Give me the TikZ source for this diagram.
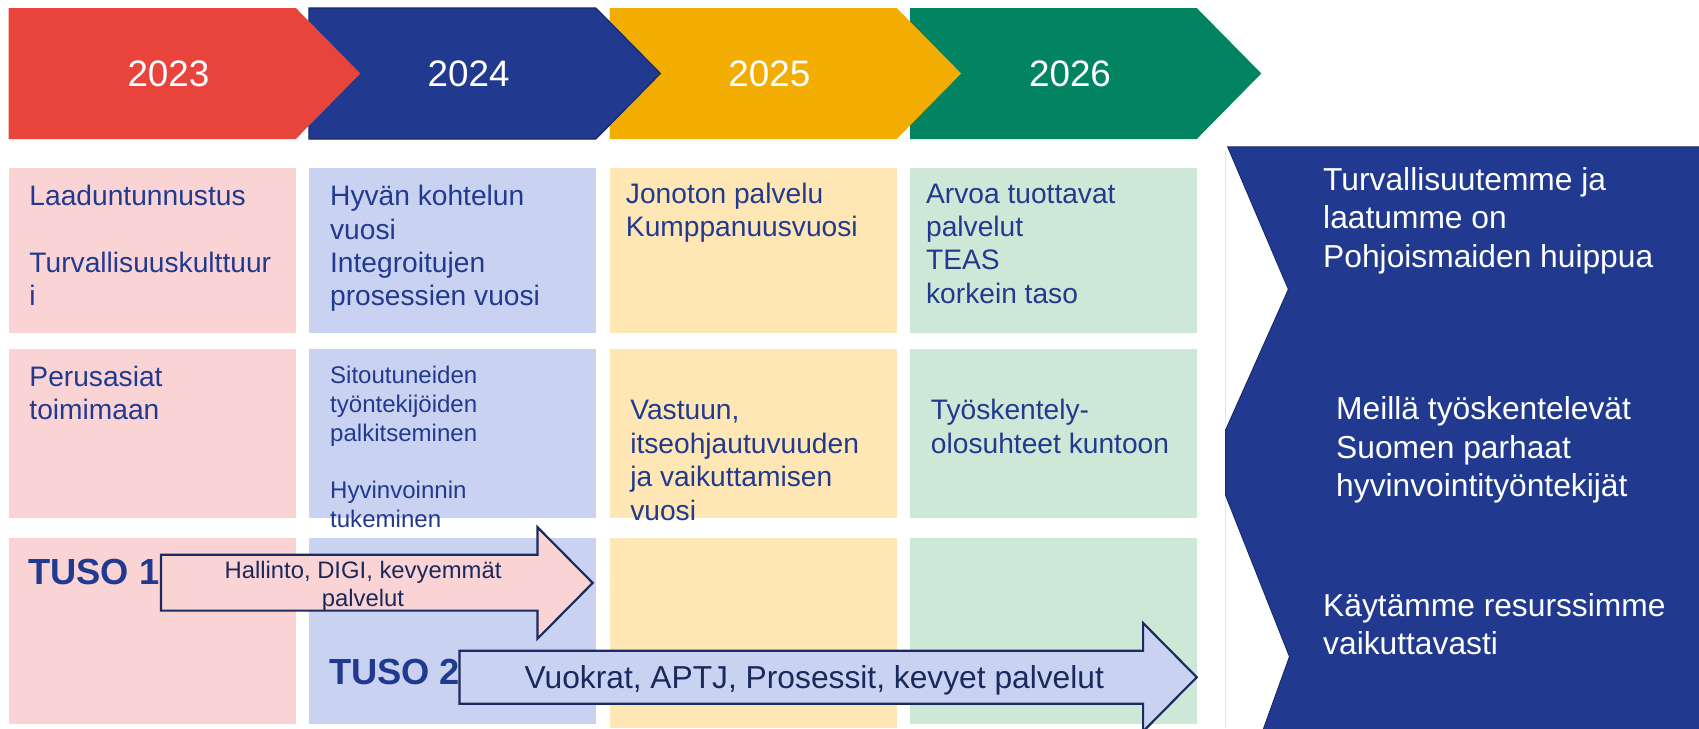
\documentclass[tikz,border=0pt]{standalone}
\usepackage{fontspec}
\setmainfont{Liberation Sans}

% palette
\definecolor{cred}{RGB}{233,68,59}
\definecolor{cnavy}{RGB}{33,58,143}
\definecolor{cnavyedge}{RGB}{22,40,105}
\definecolor{corange}{RGB}{243,172,2}
\definecolor{cgreen}{RGB}{2,132,99}
\definecolor{bpink}{RGB}{250,212,212}
\definecolor{blav}{RGB}{201,211,241}
\definecolor{byellow}{RGB}{255,231,181}
\definecolor{bgreen}{RGB}{206,232,216}
\definecolor{arrowline}{RGB}{27,42,96}
\definecolor{arrowtext}{RGB}{27,40,92}
\definecolor{gline}{RGB}{228,228,228}

% multi-line text block whose first baseline is the node's base
\newcommand\txtlines[1]{\parbox[t]{330pt}{\raggedright #1}}
\newcommand\txtcentered[1]{\parbox[t]{420pt}{\centering #1}}

\begin{document}
\begin{tikzpicture}[x=1pt,y=-1pt,
  yeartext/.style={inner sep=0pt, text=white, font=\fontsize{34}{40}\selectfont},
  boxtext/.style={anchor=base west, inner sep=0pt, text=cnavy, font=\fontsize{26}{30.8}\selectfont},
  smalltext/.style={anchor=base west, inner sep=0pt, text=cnavy, font=\fontsize{22.2}{26.7}\selectfont},
  tusotext/.style={anchor=base west, inner sep=0pt, text=cnavy, font=\fontsize{33.5}{40}\selectfont\bfseries},
  goaltext/.style={anchor=base west, inner sep=0pt, text=white, font=\fontsize{29.3}{35.3}\selectfont},
  arrowlabel/.style={anchor=base, inner sep=0pt, text=arrowtext},
  bigarrow/.style={draw=arrowline, line width=2pt, line join=miter},
]
\useasboundingbox (0,0) rectangle (1568,672);

% ---- year chevrons (drawn right to left so each tip lies over the next one)
\fill[cgreen]  (840,7.4) -- (1104.5,7.4) -- (1164,67.8) -- (1104.5,128.3) -- (840,128.3) -- cycle;
\fill[corange] (562.5,7.4) -- (827.5,7.4) -- (887,67.8) -- (827.5,128.3) -- (562.5,128.3) -- cycle;
\filldraw[fill=cnavy, draw=cnavyedge, line width=1pt]
               (285,7.4) -- (550,7.4) -- (609.5,67.8) -- (550,128.3) -- (285,128.3) -- cycle;
\fill[cred]    (8,7.4) -- (273,7.4) -- (332.5,67.8) -- (273,128.3) -- (8,128.3) -- cycle;

\node[yeartext] (y2023) at (155.5,67.8) {2023};
\node[yeartext] (y2024) at (432.5,67.8) {2024};
\node[yeartext] (y2025) at (710,67.8) {2025};
\node[yeartext] (y2026) at (987.5,67.8) {2026};

% ---- column boxes
\fill[bpink]   (8,155.4) rectangle (273,307.6);
\fill[blav]    (285,155.4) rectangle (550,307.6);
\fill[byellow] (562.5,155.4) rectangle (827.5,307.6);
\fill[bgreen]  (840,155.4) rectangle (1104.5,307.6);

\fill[bpink]   (8,322.4) rectangle (273,478.4);
\fill[blav]    (285,322.4) rectangle (550,478.4);
\fill[byellow] (562.5,322.4) rectangle (827.5,478.4);
\fill[bgreen]  (840,322.4) rectangle (1104.5,478.4);

\fill[bpink]   (8,496.8) rectangle (273,668.2);
\fill[blav]    (285,496.8) rectangle (550,668.2);
\fill[byellow] (562.5,496.8) rectangle (827.5,672);
\fill[bgreen]  (840,496.8) rectangle (1104.5,668.2);

% ---- box texts, first row
\node[boxtext] (t11) at (27,190) {\txtlines{Laaduntunnustus\\\mbox{}\\Turvallisuuskulttuur\\i}};
\node[boxtext] (t12) at (304.5,190) {\txtlines{Hyvän kohtelun\\vuosi\\Integroitujen\\prosessien vuosi}};
\node[boxtext] (t13) at (577.5,187.5) {\txtlines{Jonoton palvelu\\Kumppanuusvuosi}};
\node[boxtext] (t14) at (854.5,187.5) {\txtlines{Arvoa tuottavat\\palvelut\\TEAS\\korkein taso}};

% ---- box texts, second row
\node[boxtext] (t21) at (27,356.3) {\txtlines{Perusasiat\\toimimaan}};
\node[smalltext] (t22) at (304.5,353.7) {\txtlines{Sitoutuneiden\\työntekijöiden\\palkitseminen\\\mbox{}\\Hyvinvoinnin\\tukeminen}};
\node[boxtext] (t23) at (581.5,387.6) {\txtlines{Vastuun,\\itseohjautuvuuden\\ja vaikuttamisen\\vuosi}};
\node[boxtext] (t24) at (859,387.6) {\txtlines{Työskentely-\\olosuhteet kuntoon}};

% ---- TUSO labels and their arrows
\node[tusotext] (tuso1) at (26,539) {TUSO 1};
\node[tusotext] (tuso2) at (303.5,632) {TUSO 2};

\filldraw[bigarrow, fill=bpink]
  (148.6,512) -- (496,512) -- (496,486.5) -- (547,538) -- (496,589.5) -- (496,563.5) -- (148.6,563.5) -- cycle;
\node[arrowlabel, font=\fontsize{22}{26.4}\selectfont] (a1) at (335,533.6)
  {\txtcentered{Hallinto, DIGI, kevyemmät\\palvelut}};

\filldraw[bigarrow, fill=blav]
  (424,600.5) -- (1055,600.5) -- (1055,575) -- (1104.5,625) -- (1055,675) -- (1055,649.5) -- (424,649.5) -- cycle;
\node[arrowlabel, font=\fontsize{29.3}{34}\selectfont] (a2) at (751.5,635)
  {Vuokrat, APTJ, Prosessit, kevyet palvelut};

% ---- goal panel on the right
\draw[gline, line width=1pt] (1131,138) -- (1131,672);
\filldraw[fill=cnavy, draw=cnavyedge, line width=0.8pt]
  (1133,135.6) -- (1570,135.6) -- (1570,674) -- (1165.5,674) -- (1190,606)
  -- (1131,457) -- (1131,397) -- (1189,267) -- cycle;

\node[goaltext] (g1) at (1221,176) {\txtlines{Turvallisuutemme ja\\laatumme on\\Pohjoismaiden huippua}};
\node[goaltext] (g2) at (1233,387.6) {\txtlines{Meillä työskentelevät\\Suomen parhaat\\hyvinvointityöntekijät}};
\node[goaltext] (g3) at (1221,568.5) {\txtlines{Käytämme resurssimme\\vaikuttavasti}};
\end{tikzpicture}
\end{document}
